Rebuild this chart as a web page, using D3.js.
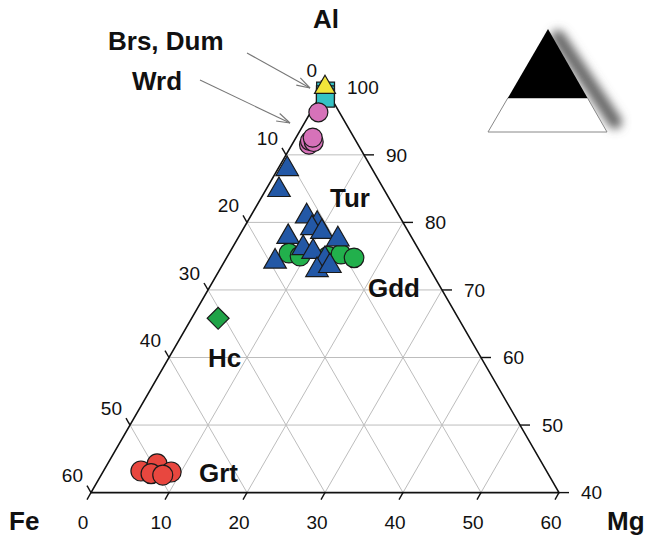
<!DOCTYPE html>
<html>
<head>
<meta charset="utf-8">
<script src="https://cdn.jsdelivr.net/npm/d3@7"></script>
<style>
  body { margin: 0; background: #fff; }
  svg { display: block; font-family: "Liberation Sans", Arial, sans-serif; }
</style>
</head>
<body>
<div id="chart"></div>
<script>
// compositions as [Fe, Mg, Al]
const bersDum = [[0, 0, 100]];
const cyanSq = [[0.2, 0.35, 99.45], [0.5, 0.6, 98.9], [0.75, 0.85, 98.4]];
const wrd = [[2.7, 1.0, 96.3], [6.3, 2.2, 91.5], [5.9, 2.05, 92.05], [5.5, 2.6, 91.9], [5.3, 2.15, 92.55]];
const tur = [
  [10.9, 1.2, 87.9], [13.5, 1.7, 84.8], [11.9, 7.2, 80.9], [11.1, 9.1, 79.8],
  [12.1, 8.75, 79.15], [11.1, 10.3, 78.6], [9.6, 12.9, 77.5], [15.8, 6.35, 77.85],
  [14.7, 9.1, 76.2], [13.7, 10.65, 75.65], [19.3, 6.5, 74.2], [12.7, 12.7, 74.6],
  [14.55, 12.5, 72.95], [12.6, 13.85, 73.55]
];
const gdd = [[16.9, 7.65, 75.45], [15.7, 9.3, 75.0], [12.1, 12.9, 75.0], [10.3, 14.4, 75.3], [8.9, 16.35, 74.75]];
const hc = [[30.8, 3.4, 65.8]];
const grt = [[52.0, 4.8, 43.2], [49.4, 6.35, 44.25], [50.9, 6.3, 42.8], [48.2, 8.75, 43.05], [49.5, 7.9, 42.6]];

const gridTicks = [10, 20, 30, 40, 50];
const feTicks = [0, 10, 20, 30, 40, 50, 60];
const mgTicks = [0, 10, 20, 30, 40, 50, 60];
const alTicks = [100, 90, 80, 70, 60, 50, 40];

const width = 646, height = 538;
const svg = d3.select('#chart').append('svg').attr('width', width).attr('height', height);

// horizontal position from Mg plus half the Al excess; vertical from Al
const x = d3.scaleLinear().domain([0, 60]).range([91, 559]);
const y = d3.scaleLinear().domain([40, 100]).range([492.6, 87.3]);
const pt = (mg, al) => [x(mg + (al - 40) / 2), y(al)];

const defs = svg.append('defs');
defs.append('filter').attr('id', 'blur').attr('x', '-50%').attr('y', '-50%').attr('width', '200%').attr('height', '200%')
  .append('feGaussianBlur').attr('stdDeviation', 5);

// inset legend triangle with shadow along its right side
const ins = { top: [548, 29], left: [488, 132], right: [607, 132], split: 98 };
const splitT = (ins.split - ins.top[1]) / (ins.left[1] - ins.top[1]);
const sl = ins.top[0] + (ins.left[0] - ins.top[0]) * splitT;
const sr = ins.top[0] + (ins.right[0] - ins.top[0]) * splitT;
svg.append('line')
  .attr('x1', ins.top[0] + 10).attr('y1', ins.top[1] + 8)
  .attr('x2', ins.right[0] + 8).attr('y2', ins.right[1] - 10)
  .attr('stroke', '#666').attr('stroke-width', 14).attr('stroke-linecap', 'round')
  .attr('filter', 'url(#blur)');
svg.append('polygon')
  .attr('points', [ins.left, ins.right, [sr, ins.split], [sl, ins.split]].map(p => p.join(',')).join(' '))
  .attr('fill', '#fff').attr('stroke', '#888').attr('stroke-width', 1);
svg.append('polygon')
  .attr('points', [ins.top, [sr, ins.split], [sl, ins.split]].map(p => p.join(',')).join(' '))
  .attr('fill', '#000');

const line = d3.line();
const grid = svg.append('g').attr('stroke', '#bdbdbd').attr('stroke-width', 1).attr('fill', 'none');
gridTicks.forEach(v => {
  // constant Al
  grid.append('path').attr('d', line([pt(0, 40 + v), pt(60 - v, 40 + v)]));
  // constant Mg
  grid.append('path').attr('d', line([pt(v, 40), pt(v, 100 - v)]));
  // constant Fe
  grid.append('path').attr('d', line([pt(0, 100 - v), pt(60 - v, 40)]));
});

// outline
svg.append('path')
  .attr('d', line([pt(0, 100), pt(0, 40), pt(60, 40)]) + 'Z')
  .attr('fill', 'none').attr('stroke', '#111').attr('stroke-width', 1.6).attr('stroke-linejoin', 'round');

// ticks
const ticks = svg.append('g').attr('stroke', '#111').attr('stroke-width', 1.4);
const labels = svg.append('g').attr('font-size', 19).attr('fill', '#111');
const c60 = Math.cos(Math.PI / 3), s60 = Math.sin(Math.PI / 3);
feTicks.forEach(v => {
  const [px, py] = pt(0, 100 - v);
  ticks.append('line').attr('x1', px).attr('y1', py).attr('x2', px - 8 * c60).attr('y2', py - 8 * s60);
  labels.append('text').attr('x', px - 8).attr('y', py - 17).attr('dy', '0.35em')
    .attr('text-anchor', 'end').text(v);
});
mgTicks.forEach(v => {
  const [px, py] = pt(v, 40);
  ticks.append('line').attr('x1', px).attr('y1', py).attr('x2', px - 8 * c60).attr('y2', py + 8 * s60);
  labels.append('text').attr('x', px - 8).attr('y', py + 30).attr('dy', '0.35em')
    .attr('text-anchor', 'middle').text(v);
});
alTicks.forEach(v => {
  const [px, py] = pt(100 - v, v);
  ticks.append('line').attr('x1', px).attr('y1', py).attr('x2', px + 10).attr('y2', py);
  labels.append('text').attr('x', px + 22).attr('y', py).attr('dy', '0.35em')
    .attr('text-anchor', 'start').text(v);
});

// markers
const marks = svg.append('g').attr('stroke', '#1a1a1a').attr('stroke-width', 1.2);
const circles = (data, fill, r) => data.forEach(d => {
  const [px, py] = pt(d[1], d[2]);
  marks.append('circle').attr('cx', px).attr('cy', py).attr('r', r).attr('fill', fill);
});
const symbols = (data, type, size, fill, rot) => data.forEach(d => {
  const [px, py] = pt(d[1], d[2]);
  marks.append('path').attr('d', d3.symbol().type(type).size(size)())
    .attr('transform', `translate(${px},${py}) rotate(${rot || 0})`).attr('fill', fill);
});

symbols(cyanSq, d3.symbolSquare, 320, '#35c2c4');
symbols(bersDum, d3.symbolTriangle, 190, '#f1e53a');
circles(grt, '#e8473f', 10);
symbols(hc, d3.symbolSquare, 240, '#1fa347', 45);
circles(wrd, '#d672b9', 9.5);
circles(gdd, '#22b04c', 9.8);
symbols(tur, d3.symbolTriangle, 220, '#2358a6');

// arrows
const arrows = [[[247, 53], [310, 88]], [[200, 80], [290, 123]]];
const arr = svg.append('g').attr('stroke', '#777').attr('stroke-width', 1.1).attr('fill', 'none');
arrows.forEach(([a, b]) => {
  arr.append('path').attr('d', line([a, b]));
  const ang = Math.atan2(b[1] - a[1], b[0] - a[0]);
  [0.3, -0.3].forEach(o => {
    arr.append('path').attr('d', line([b, [b[0] - 14 * Math.cos(ang + o), b[1] - 14 * Math.sin(ang + o)]]));
  });
});

// names
const names = [
  ['Brs, Dum', 108, 50], ['Wrd', 132, 90], ['Tur', 330, 207], ['Gdd', 368, 297],
  ['Hc', 208, 367], ['Grt', 199, 482], ['Al', 313, 28], ['Fe', 9, 530], ['Mg', 607, 530]
];
svg.append('g').attr('font-size', 26).attr('font-weight', 'bold').attr('fill', '#111')
  .selectAll('text').data(names).join('text')
  .attr('x', d => d[1]).attr('y', d => d[2]).text(d => d[0]);
</script>
</body>
</html>
